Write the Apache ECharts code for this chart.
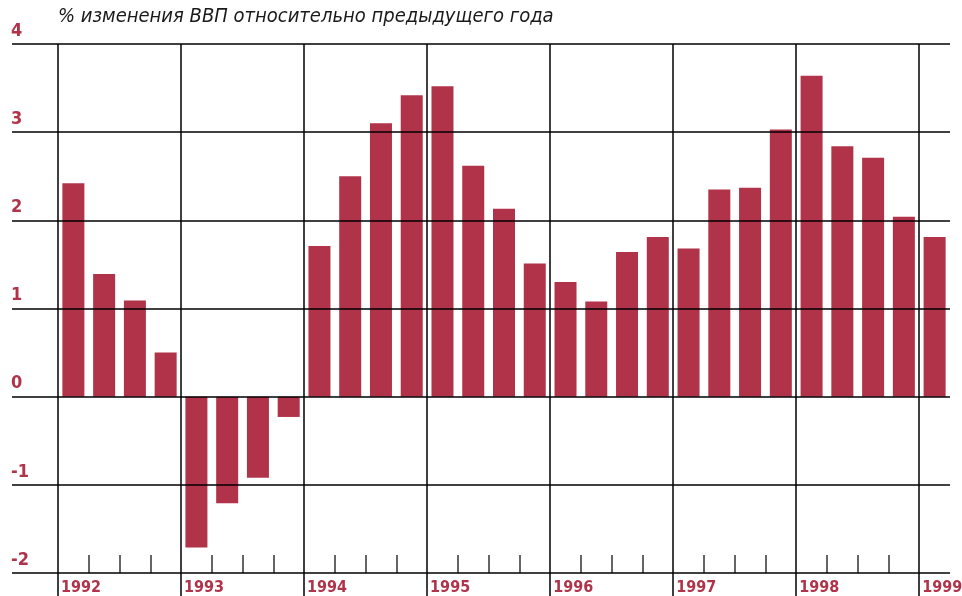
<!DOCTYPE html>
<html><head><meta charset="utf-8">
<script src="https://cdn.jsdelivr.net/npm/echarts@6/dist/echarts.min.js"></script>
<style>html,body{margin:0;padding:0;background:#fff}#c{width:962px;height:596px}</style>
</head><body><div id="c"></div>
<script>
const titleText = '% изменения ВВП относительно предыдущего года';
const quarters = ['1992Q1','1992Q2','1992Q3','1992Q4','1993Q1','1993Q2','1993Q3','1993Q4','1994Q1','1994Q2','1994Q3','1994Q4','1995Q1','1995Q2','1995Q3','1995Q4','1996Q1','1996Q2','1996Q3','1996Q4','1997Q1','1997Q2','1997Q3','1997Q4','1998Q1','1998Q2','1998Q3','1998Q4','1999Q1'];
const values = [2.42,1.39,1.09,0.50,-1.71,-1.21,-0.92,-0.23,1.71,2.50,3.10,3.42,3.52,2.62,2.13,1.51,1.30,1.08,1.64,1.81,1.68,2.35,2.37,3.03,3.64,2.84,2.71,2.04,1.81];
const yearLabels = ['1992','','','','1993','','','','1994','','','','1995','','','','1996','','','','1997','','','','1998','','','','1999',''];
const yTicks = {min:-2, max:4, interval:1};

const RED = '#b0334a';
const FONT = "'Liberation Sans Narrow','DejaVu Sans Condensed','Roboto Condensed',sans-serif";
const chart = echarts.init(document.getElementById('c'), null, {renderer:'canvas'});
chart.setOption({
  animation:false,
  backgroundColor:'#fff',
  title:{text:titleText,left:58,top:7,padding:0,textStyle:{fontFamily:FONT,fontStyle:'italic',fontWeight:'normal',fontSize:20,color:'#1a1a1a'}},
  grid:[
    {left:12,right:12,top:44,bottom:23,outerBoundsMode:'none',containLabel:false},
    {left:58,right:12,top:44,bottom:23,outerBoundsMode:'none',containLabel:false}
  ],
  xAxis:[
    {gridIndex:0,type:'value',show:false,min:0,max:1},
    {gridIndex:1,type:'category',data:quarters,boundaryGap:true,show:false},
    {gridIndex:1,type:'category',data:yearLabels,boundaryGap:false,position:'bottom',
      axisLine:{show:false},
      axisTick:{show:true,length:23,inside:false,interval:(i)=>i%4===0 && i<29,lineStyle:{color:'#000',width:1.5}},
      splitLine:{show:true,interval:(i)=>i%4===0 && i<29,lineStyle:{color:'#000',width:1.5}},
      axisLabel:{show:true,interval:(i)=>i%4===0 && i<29,align:'left',margin:7,color:RED,fontFamily:FONT,fontWeight:'bold',fontSize:16,padding:[0,0,0,3]}
    },
    {gridIndex:1,type:'category',data:yearLabels,boundaryGap:false,position:'bottom',
      axisLine:{show:false},axisLabel:{show:false},splitLine:{show:false},
      axisTick:{show:true,inside:true,length:18,interval:(i)=>i%4!==0 && i<29,lineStyle:{color:'#333',width:1.5}}
    }
  ],
  yAxis:[
    {gridIndex:0,type:'value',min:yTicks.min,max:yTicks.max,interval:yTicks.interval,z:5,
      axisLine:{show:false},axisTick:{show:false},
      splitLine:{show:true,lineStyle:{color:'#000',width:1.5}},
      axisLabel:{inside:true,margin:-1,align:'left',verticalAlign:'bottom',padding:[0,0,4,0],color:RED,fontFamily:FONT,fontWeight:'bold',fontSize:18}
    },
    {gridIndex:1,type:'value',min:yTicks.min,max:yTicks.max,interval:yTicks.interval,show:false,splitLine:{show:false}}
  ],
  series:[
    {type:'bar',xAxisIndex:1,yAxisIndex:1,data:values,barWidth:22,itemStyle:{color:RED},z:2}
  ]
});
</script></body></html>
